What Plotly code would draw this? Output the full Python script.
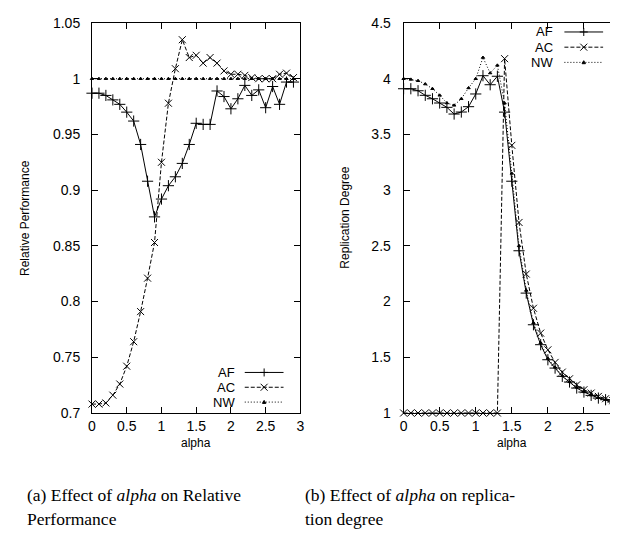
import plotly.graph_objects as go
from plotly.subplots import make_subplots

alpha = [0.0, 0.1, 0.2, 0.3, 0.4, 0.5, 0.6, 0.7, 0.8, 0.9,
         1.0, 1.1, 1.2, 1.3, 1.4, 1.5, 1.6, 1.7, 1.8, 1.9,
         2.0, 2.1, 2.2, 2.3, 2.4, 2.5, 2.6, 2.7, 2.8, 2.9]

# (a) relative performance
perf_af = [0.987, 0.987, 0.985, 0.981, 0.977, 0.970, 0.962, 0.941, 0.908, 0.876,
           0.892, 0.904, 0.912, 0.924, 0.941, 0.960, 0.959, 0.959, 0.989, 0.984,
           0.973, 0.982, 0.994, 0.985, 0.990, 0.974, 0.993, 0.977, 0.997, 0.997]
perf_ac = [0.708, 0.708, 0.709, 0.716, 0.726, 0.742, 0.764, 0.791, 0.821, 0.853,
           0.925, 0.978, 1.009, 1.035, 1.019, 1.021, 1.014, 1.019, 1.014, 1.007,
           1.004, 1.004, 1.003, 1.001, 1.000, 1.000, 1.000, 1.004, 1.005, 1.001]
perf_nw = [1.0, 1.0, 1.0, 1.0, 1.0, 1.0, 1.0, 1.0, 1.0, 1.0,
           1.0, 1.0, 1.0, 1.0, 1.0, 1.0, 1.0, 1.0, 1.0, 1.0,
           1.0, 1.0, 1.0, 1.0, 1.0, 1.0, 1.0, 1.0, 1.0, 1.0]

# (b) replication degree
rep_af = [3.910, 3.910, 3.892, 3.851, 3.820, 3.782, 3.743, 3.683, 3.701, 3.749,
          3.863, 4.027, 3.946, 4.022, 3.700, 3.080, 2.456, 2.076, 1.792, 1.613,
          1.478, 1.403, 1.329, 1.278, 1.224, 1.188, 1.158, 1.134, 1.119, 1.099]
rep_ac = [1.0, 1.0, 1.0, 1.0, 1.0, 1.0, 1.0, 1.0, 1.0, 1.0,
          1.0, 1.0, 1.0, 1.0, 4.180, 3.402, 2.710, 2.247, 1.940, 1.717,
          1.567, 1.454, 1.367, 1.307, 1.253, 1.209, 1.179, 1.149, 1.128, 1.110]
rep_nw = [4.000, 3.994, 3.982, 3.952, 3.910, 3.851, 3.782, 3.761, 3.820, 3.917,
          4.000, 4.190, 4.051, 4.120, 3.780, 3.150, 2.500, 2.100, 1.810, 1.630,
          1.490, 1.410, 1.335, 1.280, 1.230, 1.190, 1.160, 1.137, 1.120, 1.100]

x_ticks = [0, 0.5, 1, 1.5, 2, 2.5, 3]
perf_ticks = [0.7, 0.75, 0.8, 0.85, 0.9, 0.95, 1, 1.05]
rep_ticks = [1, 1.5, 2, 2.5, 3, 3.5, 4, 4.5]

SANS = "Liberation Sans, Arial, sans-serif"
SERIF = "Liberation Serif, Times New Roman, serif"

STYLES = {
    "AF": dict(dash="solid", symbol="cross-thin", size=8),
    "AC": dict(dash="4px,2px", symbol="x-thin", size=7),
    "NW": dict(dash="1px,2px", symbol="triangle-up", size=3),
}

fig = make_subplots(rows=1, cols=2, horizontal_spacing=0.1955)
fig.layout.xaxis.domain = [0, 0.3947]
fig.layout.xaxis2.domain = [0.5902, 1.0]


def add_series(y, name, col):
    s = STYLES[name]
    marker = dict(symbol=s["symbol"], size=s["size"], color="black",
                  line=dict(color="black", width=1))
    fig.add_trace(go.Scatter(x=alpha, y=y, mode="lines+markers", name=name,
                             line=dict(color="black", width=1, dash=s["dash"]),
                             marker=marker, cliponaxis=False, showlegend=False),
                  row=1, col=col)


for y, n in [(perf_af, "AF"), (perf_ac, "AC"), (perf_nw, "NW")]:
    add_series(y, n, 1)
for y, n in [(rep_af, "AF"), (rep_ac, "AC"), (rep_nw, "NW")]:
    add_series(y, n, 2)

axis_common = dict(showline=True, linecolor="black", linewidth=1, mirror="ticks",
                   ticks="inside", ticklen=6, tickcolor="black", showgrid=False,
                   zeroline=False, tickfont=dict(family=SANS, size=14, color="black"))
for c in (1, 2):
    fig.update_xaxes(range=[0, 3], tickvals=x_ticks, row=1, col=c, **axis_common)
fig.update_yaxes(range=[0.7, 1.05], tickvals=perf_ticks, row=1, col=1,
                 ticklabelstandoff=8, **axis_common)
fig.update_yaxes(range=[1, 4.5], tickvals=rep_ticks, row=1, col=2,
                 ticklabelstandoff=9, **axis_common)


def legend(xr, yr, tx, lx0, lx1, rows):
    for name, yy in zip(["AF", "AC", "NW"], rows):
        s = STYLES[name]
        fig.add_annotation(xref=xr, yref=yr, x=tx, y=yy, text=name, showarrow=False,
                           xanchor="right", yanchor="middle", borderpad=0,
                           font=dict(family=SANS, size=13, color="black"))
        fig.add_shape(type="line", xref=xr, yref=yr, x0=lx0, x1=lx1, y0=yy, y1=yy,
                      line=dict(color="black", width=1, dash=s["dash"]))
        mx = (lx0 + lx1) / 2
        if name == "AF":
            path = "M-4,0 L4,0 M0,-4 L0,4"
        elif name == "AC":
            path = "M-3.5,-3.5 L3.5,3.5 M-3.5,3.5 L3.5,-3.5"
        else:
            path = "M-1.7,-1.3 L1.7,-1.3 L0,1.7 Z"
        fig.add_shape(type="path", xref=xr, yref=yr, xsizemode="pixel",
                      ysizemode="pixel", xanchor=mx, yanchor=yy, path=path,
                      fillcolor="black", line=dict(color="black", width=1))


legend("x domain", "y domain", 0.690, 0.733, 0.919, [0.104, 0.066, 0.028])
legend("x2 domain", "y2 domain", 0.697, 0.743, 0.922, [0.977, 0.938, 0.899])

# axis titles
fig.add_annotation(xref="x domain", yref="y domain", x=0, y=0.5, xshift=-67,
                   xanchor="center", yanchor="middle",
                   text="Relative Performance", textangle=-90, showarrow=False,
                   font=dict(family=SANS, size=12, color="black"))
fig.add_annotation(xref="x2 domain", yref="y2 domain", x=0, y=0.5, xshift=-59,
                   xanchor="center", yanchor="middle",
                   text="Replication Degree", textangle=-90, showarrow=False,
                   font=dict(family=SANS, size=12, color="black"))
for xr in ("x domain", "x2 domain"):
    fig.add_annotation(xref=xr, yref="paper", x=0.5, y=0, yshift=-39,
                       text="alpha", showarrow=False,
                       font=dict(family=SANS, size=12, color="black"))

# captions
captions = [
    (-0.127, ["(a) Effect of <i>alpha</i> on Relative", "Performance"]),
    (0.4, ["(b) Effect of <i>alpha</i> on replica-", "tion degree"]),
]
for cx, lines in captions:
    for i, line in enumerate(lines):
        fig.add_annotation(xref="paper", yref="paper", x=cx, y=0,
                           yshift=-82 - 24 * i, text=line, showarrow=False,
                           xanchor="left", yanchor="middle",
                           font=dict(family=SERIF, size=17.5, color="black"))

fig.update_layout(width=618, height=539, margin=dict(l=84, r=2, t=15, b=134),
                  paper_bgcolor="white", plot_bgcolor="white", showlegend=False)
fig.write_html("out.html")
